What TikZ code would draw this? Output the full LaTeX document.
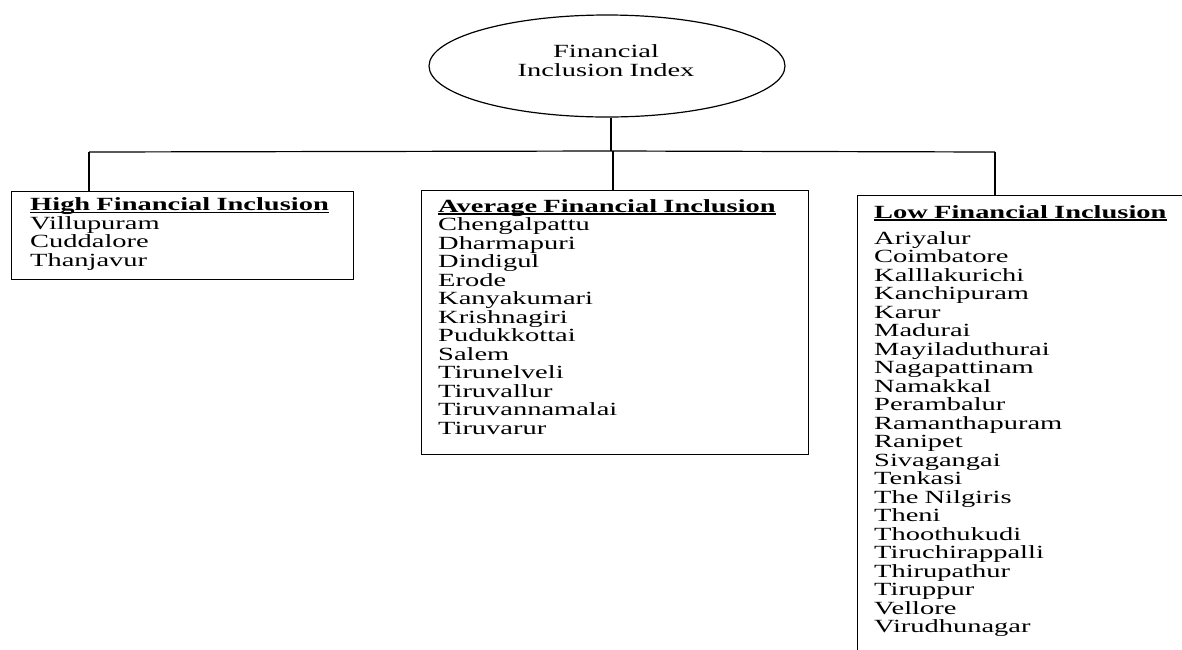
\documentclass[tikz,border=0pt]{standalone}
\usepackage{fontspec}
\setmainfont{Liberation Serif}[FakeStretch=1.53]
\usetikzlibrary{shapes.geometric}
\newcommand\myul[1]{\setbox0\hbox{#1}\rlap{\rule[-2.6pt]{\wd0}{1.3pt}}\box0}
\begin{document}
\begin{tikzpicture}[x=1pt,y=-1pt,
  txt/.style={inner sep=0pt, font=\fontsize{18.6pt}{18.5pt}\selectfont},
  lbl/.style={txt, anchor=base west, align=left, text width=330pt},
  catbox/.style={draw, line width=1.3pt, inner sep=0pt, anchor=north west},
  link/.style={line width=1.2pt}]
\useasboundingbox (0,0) rectangle (1182,649);
\clip (0,0) rectangle (1182,649);

\node[ellipse, draw, line width=1.2pt, minimum width=356pt, minimum height=102pt, inner sep=0pt] (root) at (607,66) {};
\node[txt, anchor=base, align=center, text width=250pt, font=\fontsize{18.6pt}{19.5pt}\selectfont] (roottxt) at (606,57) {Financial\\Inclusion Index};

\node[catbox, minimum width=342pt, minimum height=88pt] (highbox) at (11,191) {};
\node[catbox, minimum width=387pt, minimum height=264pt] (avgbox) at (421,190) {};
\node[catbox, minimum width=400pt, minimum height=500pt] (lowbox) at (857,195) {};

\node[lbl] (hightxt) at (30,210.5) {\myul{\textbf{High Financial Inclusion}}\\Villupuram\\Cuddalore\\Thanjavur};
\node[lbl] (avgtxt) at (438,212) {\myul{\textbf{Average Financial Inclusion}}\\Chengalpattu\\Dharmapuri\\Dindigul\\Erode\\Kanyakumari\\Krishnagiri\\Pudukkottai\\Salem\\Tirunelveli\\Tiruvallur\\Tiruvannamalai\\Tiruvarur};
\node[lbl] (lowtxt) at (874,218) {\myul{\textbf{Low Financial Inclusion}}\\[7.5pt]Ariyalur\\Coimbatore\\Kalllakurichi\\Kanchipuram\\Karur\\Madurai\\Mayiladuthurai\\Nagapattinam\\Namakkal\\Perambalur\\Ramanthapuram\\Ranipet\\Sivagangai\\Tenkasi\\The Nilgiris\\Theni\\Thoothukudi\\Tiruchirappalli\\Thirupathur\\Tiruppur\\Vellore\\Virudhunagar};

\coordinate (hub) at (611,151);
\coordinate (jl) at (89,152);
\coordinate (jm) at (613,151);
\coordinate (jr) at (995,152);
\draw[link] (hub |- root.south) -- (hub);
\draw[link] (jl) -- (hub) -- (jr);
\draw[link] (jl) -- (jl |- highbox.north);
\draw[link] (jm) -- (jm |- avgbox.north);
\draw[link] (jr) -- (jr |- lowbox.north);
\end{tikzpicture}
\end{document}
